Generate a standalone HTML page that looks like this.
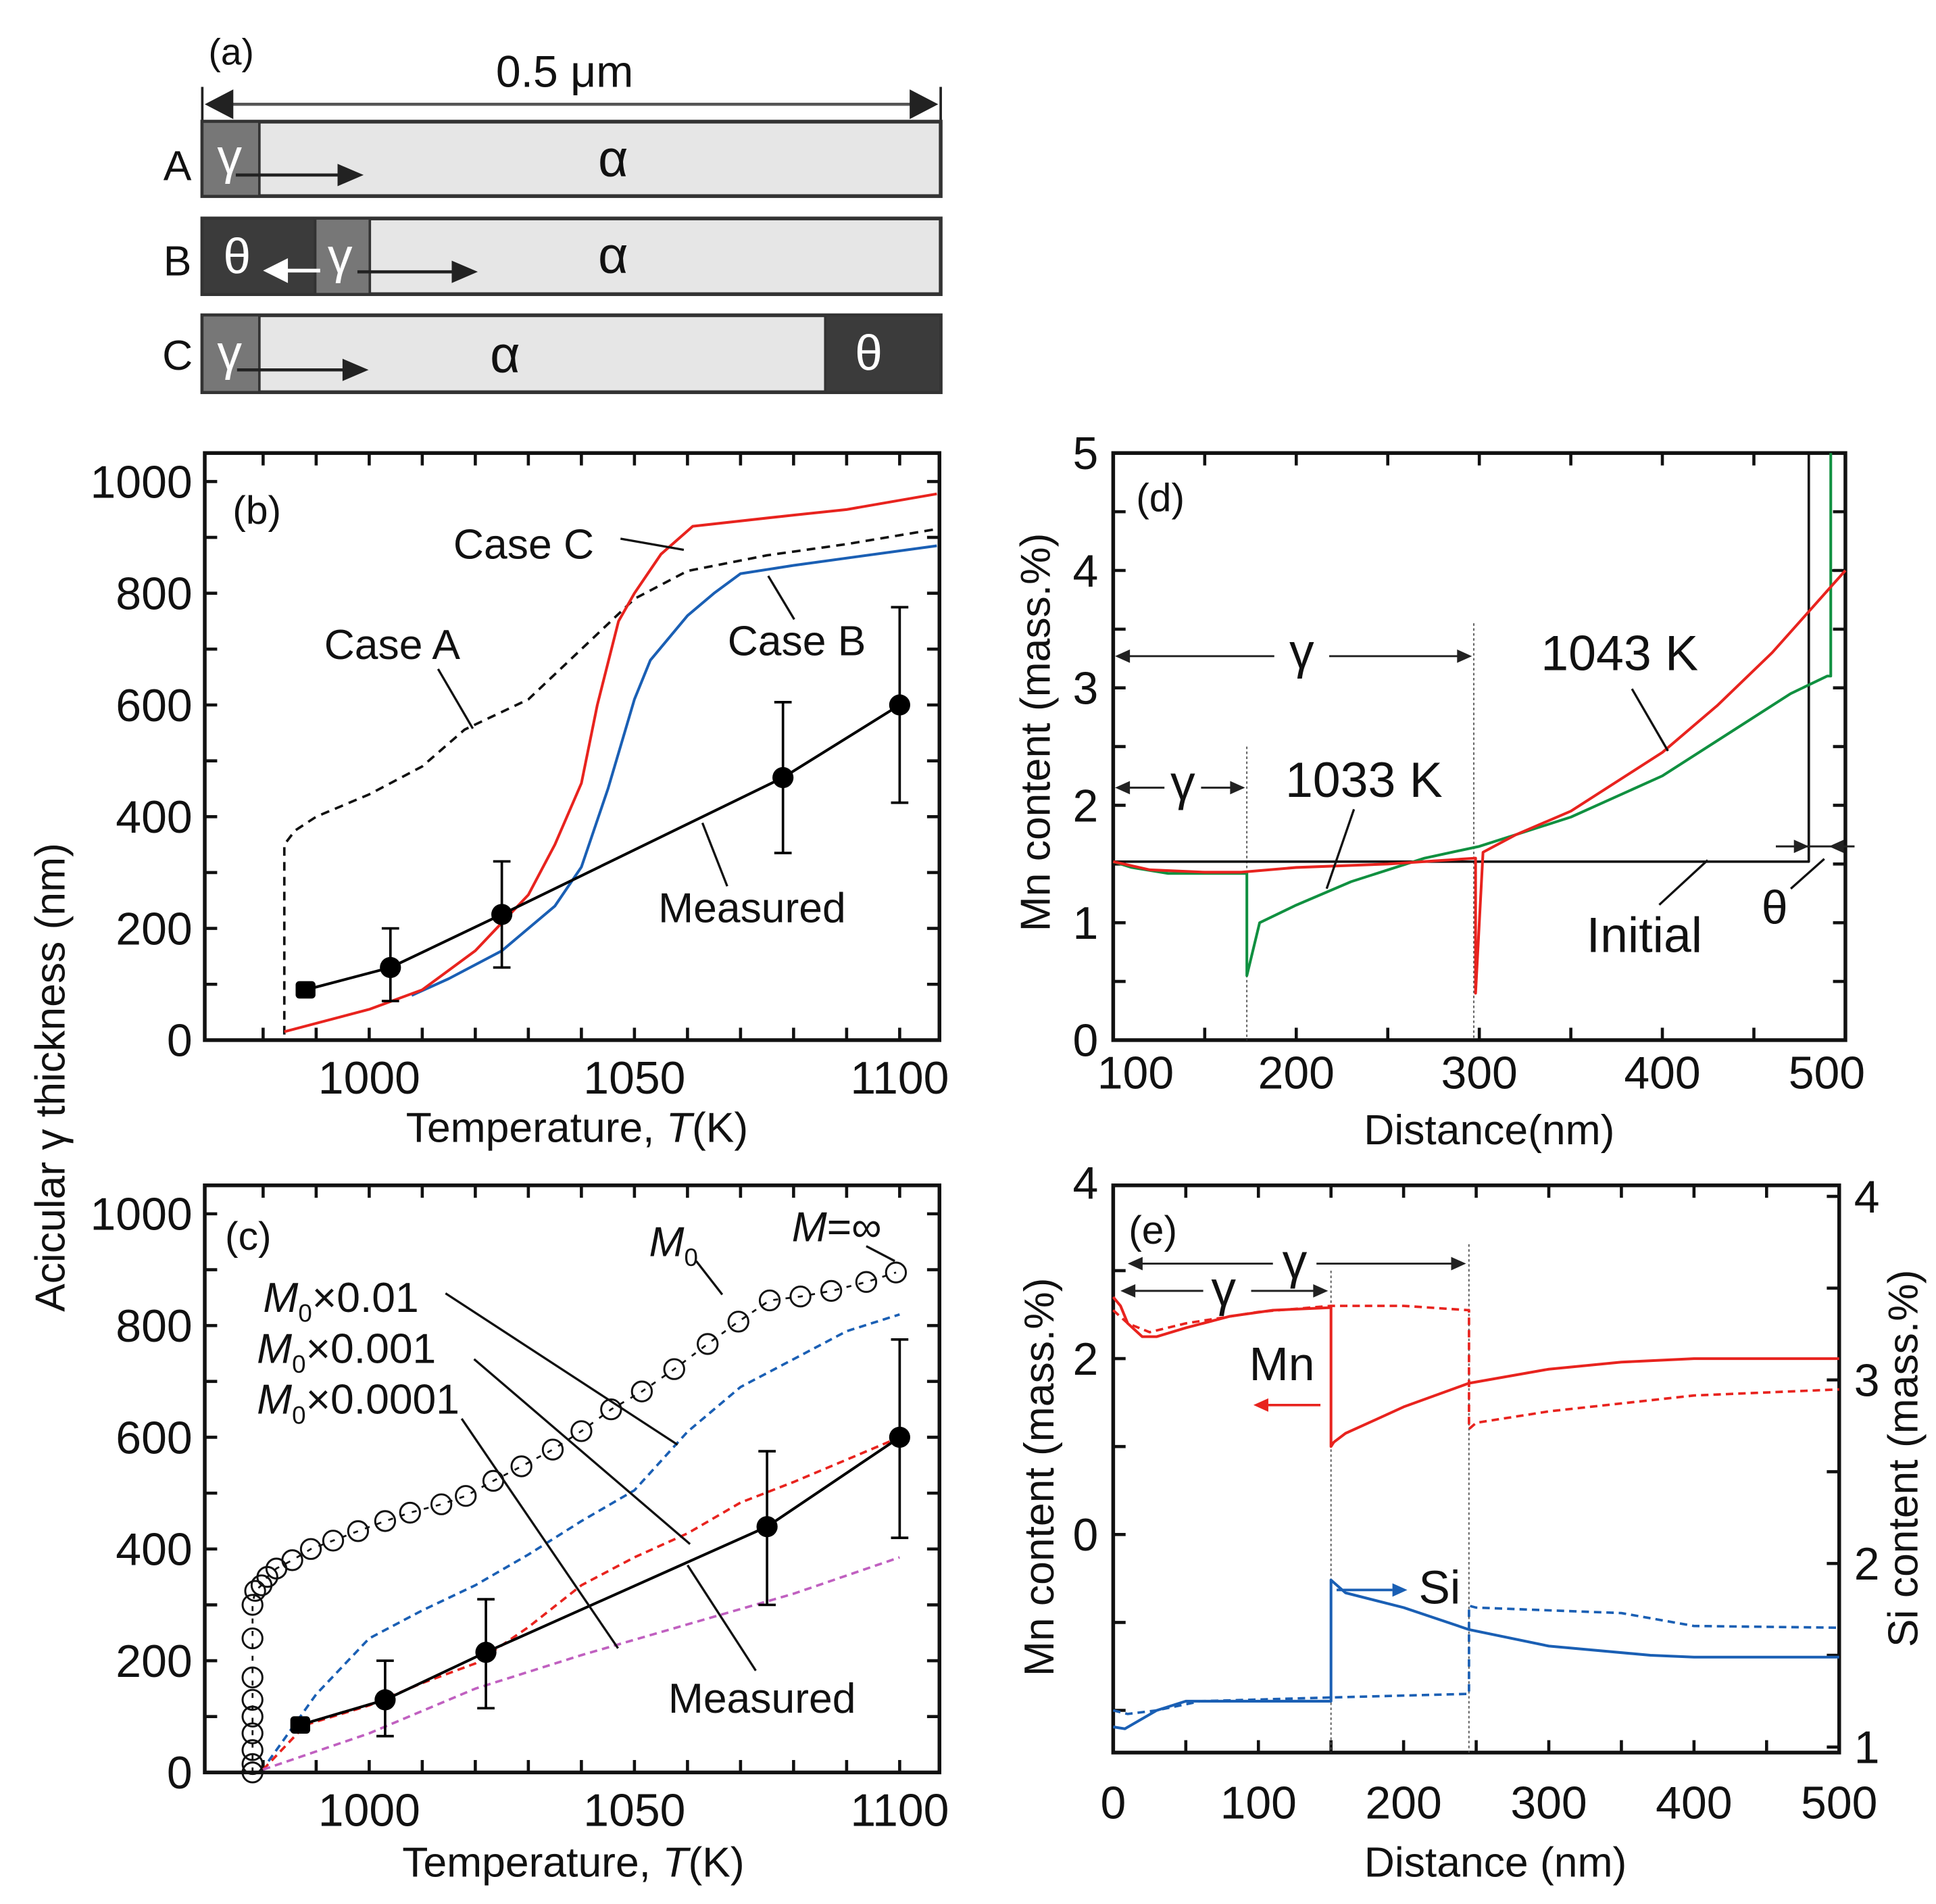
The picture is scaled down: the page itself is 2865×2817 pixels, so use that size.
<!DOCTYPE html>
<html><head><meta charset="utf-8">
<style>
html,body{margin:0;padding:0;background:#fff;}
svg{display:block;}
text{font-family:"Liberation Sans",sans-serif;fill:#111;}
</style></head>
<body>
<svg id="fig" width="2865" height="2817" viewBox="0 0 1560 1534" preserveAspectRatio="none" xmlns="http://www.w3.org/2000/svg">
<!-- Panel (a) -->
<g>
  <text x="168" y="52" font-size="30">(a)</text>
  <text x="455" y="70" font-size="36" text-anchor="middle">0.5 μm</text>
  <line x1="163" y1="70" x2="163" y2="98" stroke="#222" stroke-width="2"/>
  <line x1="758" y1="70" x2="758" y2="98" stroke="#222" stroke-width="2"/>
  <line x1="180" y1="84" x2="740" y2="84" stroke="#555" stroke-width="2.5"/>
  <polygon points="165,84 188,72 188,96" fill="#222"/>
  <polygon points="756,84 733,72 733,96" fill="#222"/>

  <text x="143" y="145" font-size="34" text-anchor="middle">A</text>
  <rect x="163" y="98" width="595" height="60" fill="#e6e6e6" stroke="#333" stroke-width="3"/>
  <rect x="163" y="98" width="46" height="60" fill="#777" stroke="#333" stroke-width="2"/>
  <text x="185" y="140" font-size="40" text-anchor="middle" style="fill:#fff">γ</text>
  <text x="494" y="142" font-size="42" text-anchor="middle">α</text>
  <line x1="190" y1="141" x2="275" y2="141" stroke="#222" stroke-width="2.5"/>
  <polygon points="293,141 272,132 272,150" fill="#222"/>

  <text x="143" y="222" font-size="34" text-anchor="middle">B</text>
  <rect x="163" y="176" width="595" height="61" fill="#e6e6e6" stroke="#333" stroke-width="3"/>
  <rect x="163" y="176" width="91" height="61" fill="#3b3b3b" stroke="#333" stroke-width="2"/>
  <rect x="254" y="176" width="44" height="61" fill="#777" stroke="#333" stroke-width="2"/>
  <text x="191" y="220" font-size="40" text-anchor="middle" style="fill:#fff">θ</text>
  <text x="274" y="220" font-size="40" text-anchor="middle" style="fill:#fff">γ</text>
  <text x="494" y="220" font-size="42" text-anchor="middle">α</text>
  <line x1="228" y1="218" x2="258" y2="218" stroke="#fff" stroke-width="3"/>
  <polygon points="212,218 232,208 232,228" fill="#fff"/>
  <line x1="288" y1="219" x2="366" y2="219" stroke="#222" stroke-width="2.5"/>
  <polygon points="385,219 364,210 364,228" fill="#222"/>

  <text x="143" y="298" font-size="34" text-anchor="middle">C</text>
  <rect x="163" y="254" width="595" height="62" fill="#e6e6e6" stroke="#333" stroke-width="3"/>
  <rect x="163" y="254" width="46" height="62" fill="#777" stroke="#333" stroke-width="2"/>
  <rect x="665" y="254" width="93" height="62" fill="#3b3b3b" stroke="#333" stroke-width="2"/>
  <text x="185" y="298" font-size="40" text-anchor="middle" style="fill:#fff">γ</text>
  <text x="700" y="298" font-size="40" text-anchor="middle" style="fill:#fff">θ</text>
  <text x="407" y="300" font-size="42" text-anchor="middle">α</text>
  <line x1="191" y1="298" x2="278" y2="298" stroke="#222" stroke-width="2.5"/>
  <polygon points="297,298 276,289 276,307" fill="#222"/>
</g>
<text transform="translate(52,868) rotate(-90)" font-size="34" text-anchor="middle">Acicular γ thickness (nm)</text>
<g id="plots"></g>
</svg>
<script>
// ---------- Panel (b) data ----------
const bCaseA_T = [984, 984, 986, 990, 1000, 1010, 1018, 1030, 1040, 1050, 1060, 1075, 1090, 1107];
const bCaseA_V = [10, 350, 375, 400, 440, 490, 556, 610, 700, 790, 840, 868, 888, 915];
const bCaseC_T = [984, 1000, 1010, 1020, 1030, 1035, 1040, 1043, 1047, 1050, 1055, 1061, 1080, 1090, 1107];
const bCaseC_V = [15, 55, 90, 160, 260, 350, 460, 600, 750, 800, 870, 920, 940, 950, 978];
const bCaseB_T = [1008, 1015, 1025, 1035, 1040, 1045, 1050, 1053, 1060, 1065, 1070, 1080, 1107];
const bCaseB_V = [80, 110, 160, 240, 310, 450, 610, 680, 760, 800, 835, 850, 885];
const bMeasT = [988, 1004, 1025, 1078, 1100];
const bMeasV = [90, 130, 225, 470, 600];
const bErrLo = [90, 70, 130, 335, 425];
const bErrHi = [90, 200, 320, 605, 775];
const bYTicks = [0, 200, 400, 600, 800, 1000];
const bXTicks = [1000, 1050, 1100];

// ---------- Panel (c) data ----------
const cCircT = [978,978,978,978,978,978,978,978,978,978.5,979.7,980.8,982.5,985.5,989,993.2,997.9,1003,1007.7,1013.6,1018.2,1023.4,1028.7,1034.6,1040,1045.6,1051.4,1057.5,1063.8,1069.6,1075.5,1081.3,1087.1,1093.7,1099.3];
const cCircV = [0,15,40,70,100,130,170,240,300,325,335,350,365,380,400,415,432,450,465,480,495,522,548,578,611,650,682,722,767,807,845,852,862,878,895];
const cBlueT = [981, 990, 1000, 1010, 1020, 1030, 1040, 1050, 1060, 1070, 1080, 1090, 1100];
const cBlueV = [20, 140, 240, 290, 335, 390, 450, 505, 610, 690, 740, 790, 820];
const cRedT = [980, 988, 1000, 1010, 1020, 1030, 1040, 1050, 1060, 1070, 1080, 1090, 1100];
const cRedV = [5, 85, 120, 160, 195, 260, 335, 385, 428, 483, 520, 560, 600];
const cMagT = [980, 1000, 1020, 1040, 1060, 1080, 1100];
const cMagV = [5, 70, 150, 210, 265, 320, 385];
const cMeasT = [987, 1003, 1022, 1075, 1100];
const cMeasV = [85, 130, 215, 440, 600];
const cErrLo = [85, 65, 115, 300, 420];
const cErrHi = [85, 200, 310, 575, 775];

// ---------- Panel (d) data ----------
const dInitX = [100, 480, 480];
const dInitV = [1.52, 1.52, 5];
const d1043X = [100, 120, 150, 170, 200, 250, 298, 298, 302, 320, 350, 400, 430, 460, 480, 500];
const d1043V = [1.52, 1.45, 1.43, 1.43, 1.47, 1.5, 1.55, 0.4, 1.6, 1.75, 1.95, 2.45, 2.85, 3.3, 3.65, 4.0];
const d1033X = [100, 110, 130, 173, 173, 180, 200, 230, 270, 300, 350, 400, 440, 470, 490, 492, 492];
const d1033V = [1.52, 1.47, 1.42, 1.42, 0.55, 1.0, 1.15, 1.35, 1.55, 1.65, 1.9, 2.25, 2.65, 2.95, 3.1, 3.1, 5];
const dYTicks = [0, 1, 2, 3, 4, 5];
const dXTicks = [100, 200, 300, 400, 500];

// ---------- Panel (e) data ----------
const eMnSolidX = [0, 5, 10, 20, 30, 50, 80, 110, 150, 150, 152, 160, 180, 200, 245, 300, 350, 400, 500];
const eMnSolidV = [2.7, 2.6, 2.4, 2.25, 2.25, 2.35, 2.48, 2.55, 2.58, 1.0, 1.05, 1.15, 1.3, 1.45, 1.72, 1.88, 1.96, 2.0, 2.0];
const eMnDashX = [0, 10, 25, 50, 100, 150, 200, 245, 245, 250, 300, 400, 500];
const eMnDashV = [2.55, 2.4, 2.3, 2.4, 2.53, 2.6, 2.6, 2.55, 1.2, 1.27, 1.4, 1.58, 1.65];
const eSiSolidX = [0, 8, 30, 50, 150, 150, 160, 200, 245, 300, 370, 400, 500];
const eSiSolidV = [1.11, 1.1, 1.2, 1.25, 1.25, 1.91, 1.84, 1.76, 1.64, 1.55, 1.5, 1.49, 1.49];
const eSiDashX = [0, 10, 30, 60, 150, 245, 245, 250, 350, 400, 500];
const eSiDashV = [1.2, 1.18, 1.2, 1.25, 1.27, 1.29, 1.77, 1.76, 1.73, 1.66, 1.65];
const eLeftTicks = [0, 2, 4];
const eRightTicks = [1, 2, 3, 4];
const eXTicks = [0, 100, 200, 300, 400, 500];

const NS = 'http://www.w3.org/2000/svg';
const root = document.getElementById('plots');
function mk(tag, attrs, parent) {
  const e = document.createElementNS(NS, tag);
  for (const k in attrs) e.setAttribute(k, attrs[k]);
  (parent || root).appendChild(e);
  return e;
}
function scale(d0, d1, p0, p1) { return v => p0 + (v - d0) / (d1 - d0) * (p1 - p0); }
function poly(xs, vs, X, Y, stroke, dash, name, w) {
  const pts = xs.map((x, i) => X(x).toFixed(1) + ',' + Y(vs[i]).toFixed(1)).join(' ');
  const p = mk('polyline', {points: pts, fill: 'none', stroke: stroke, 'stroke-width': w || 2.2, 'stroke-dasharray': dash || 'none', 'stroke-linejoin': 'round'});
  
  
  return p;
}
function txt(x, y, s, size, anchor, name, extra) {
  const t = mk('text', Object.assign({x: x, y: y, 'font-size': size, 'text-anchor': anchor || 'start'}, extra || {}));
  t.textContent = s;
  
  
  return t;
}
function ln(x1, y1, x2, y2, name, color, w, dash) {
  const l = mk('line', {x1: x1, y1: y1, x2: x2, y2: y2, stroke: color || '#111', 'stroke-width': w || 1.8, 'stroke-dasharray': dash || 'none'});
  
  
  return l;
}
function box(x0, y0, x1, y1, name) {
  const r = mk('rect', {x: x0, y: y0, width: x1 - x0, height: y1 - y0, fill: 'none', stroke: '#111', 'stroke-width': 3});
  
  
}
function xticks(start, end, step, X, y0, y1, name) {
  for (let v = start; v <= end + 1e-9; v += step) {
    const x = X(v);
    ln(x, y1, x, y1 - 10, name + '-bottom', '#111', 2.5);
    ln(x, y0, x, y0 + 10, name + '-top', '#111', 2.5);
  }
}
function yticks(start, end, step, Y, x0, x1, name, left, right) {
  for (let v = start; v <= end + 1e-9; v += step) {
    const y = Y(v);
    if (left !== false) ln(x0, y, x0 + 10, y, name + '-left', '#111', 2.5);
    if (right !== false) ln(x1, y, x1 - 10, y, name + '-right', '#111', 2.5);
  }
}
function arrowHead(x, y, dir, color, name, size) {
  const s = size || 12;
  const pts = dir > 0 ? `${x},${y} ${x - s},${y - s * 0.45} ${x - s},${y + s * 0.45}` : `${x},${y} ${x + s},${y - s * 0.45} ${x + s},${y + s * 0.45}`;
  const p = mk('polygon', {points: pts, fill: color});
  
  
}
function marker(x, y, name, square) {
  const c = square ? mk('rect', {x: x - 8, y: y - 7, width: 16, height: 14, rx: 3, fill: '#000'}) : mk('circle', {cx: x, cy: y, r: 8.5, fill: '#000'});
  
  
}

// ================= Panel (b) =================
{
  const X = scale(969, 1107.5, 165, 757), Y = scale(0, 1051, 838, 365);
  xticks(980, 1100, 10, X, 365, 838, 'b-x-tick');
  yticks(0, 1000, 100, Y, 165, 757, 'b-y-tick');
  box(165, 365, 757, 838, 'panel-b-frame');
  bYTicks.forEach(v => txt(155, Y(v) + 13, String(v), 37, 'end', 'b-y-tick-label'));
  bXTicks.forEach(v => txt(X(v), 881, String(v), 37, 'middle', 'b-x-tick-label'));
  const xt = txt(465, 920, '', 34, 'middle', 'b-x-axis-title');
  const a = mk('tspan', {}, xt); a.textContent = 'Temperature, ';
  const b = mk('tspan', {'font-style': 'italic'}, xt); b.textContent = 'T';
  const c = mk('tspan', {}, xt); c.textContent = '(K)';
  txt(207, 422, '(b)', 32, 'middle', 'panel-b-label');
  poly(bCaseA_T, bCaseA_V, X, Y, '#111', '7,5', 'case-a-line', 2);
  poly(bCaseB_T, bCaseB_V, X, Y, '#1a5fb4', null, 'case-b-line');
  poly(bCaseC_T, bCaseC_V, X, Y, '#e8231e', null, 'case-c-line');
  poly(bMeasT, bMeasV, X, Y, '#000', null, 'b-measured-line', 2.2);
  bMeasT.forEach((t, i) => {
    if (bErrHi[i] > bErrLo[i]) {
      ln(X(t), Y(bErrLo[i]), X(t), Y(bErrHi[i]), 'b-error-bar', '#000', 2);
      ln(X(t) - 7, Y(bErrLo[i]), X(t) + 7, Y(bErrLo[i]), 'b-error-cap', '#000', 2);
      ln(X(t) - 7, Y(bErrHi[i]), X(t) + 7, Y(bErrHi[i]), 'b-error-cap', '#000', 2);
    }
    marker(X(t), Y(bMeasV[i]), 'b-measured-point', i === 0);
  });
  txt(422, 450, 'Case C', 34, 'middle', 'case-c-label');
  ln(500, 434, 551, 443, 'case-c-pointer');
  txt(316, 531, 'Case A', 34, 'middle', 'case-a-label');
  ln(353, 539, 381, 587, 'case-a-pointer');
  txt(642, 528, 'Case B', 34, 'middle', 'case-b-label');
  ln(619, 464, 640, 499, 'case-b-pointer');
  txt(606, 743, 'Measured', 34, 'middle', 'b-measured-label');
  ln(586, 714, 566, 663, 'b-measured-pointer');
}

// ================= Panel (c) =================
{
  const X = scale(969, 1107.5, 165, 757), Y = scale(0, 1051, 1428, 955);
  xticks(980, 1100, 10, X, 955, 1428, 'c-x-tick');
  yticks(0, 1000, 100, Y, 165, 757, 'c-y-tick');
  box(165, 955, 757, 1428, 'panel-c-frame');
  bYTicks.forEach(v => txt(155, Y(v) + 13, String(v), 37, 'end', 'c-y-tick-label'));
  bXTicks.forEach(v => txt(X(v), 1471, String(v), 37, 'middle', 'c-x-tick-label'));
  const xt = txt(462, 1512, '', 34, 'middle', 'c-x-axis-title');
  const a = mk('tspan', {}, xt); a.textContent = 'Temperature, ';
  const b = mk('tspan', {'font-style': 'italic'}, xt); b.textContent = 'T';
  const c = mk('tspan', {}, xt); c.textContent = '(K)';
  txt(200, 1007, '(c)', 32, 'middle', 'panel-c-label');
  poly(cCircT, cCircV, X, Y, '#111', '4,6', 'm-infinity-line', 1.5);
  cCircT.forEach((t, i) => {
    const ci = mk('circle', {cx: X(t), cy: Y(cCircV[i]), r: 8, fill: 'none', stroke: '#111', 'stroke-width': 1.6});
    
    
  });
  poly(cBlueT, cBlueV, X, Y, '#1a5fb4', '6,4', 'm0-x0.01-line', 2);
  poly(cRedT, cRedV, X, Y, '#e8231e', '6,4', 'm0-x0.001-line', 2);
  poly(cMagT, cMagV, X, Y, '#c060c0', '6,4', 'm0-x0.0001-line', 2);
  poly(cMeasT, cMeasV, X, Y, '#000', null, 'c-measured-line', 2.2);
  cMeasT.forEach((t, i) => {
    if (cErrHi[i] > cErrLo[i]) {
      ln(X(t), Y(cErrLo[i]), X(t), Y(cErrHi[i]), 'c-error-bar', '#000', 2);
      ln(X(t) - 7, Y(cErrLo[i]), X(t) + 7, Y(cErrLo[i]), 'c-error-cap', '#000', 2);
      ln(X(t) - 7, Y(cErrHi[i]), X(t) + 7, Y(cErrHi[i]), 'c-error-cap', '#000', 2);
    }
    marker(X(t), Y(cMeasV[i]), 'c-measured-point', i === 0);
  });
  function mlabel(x, y, rest, name) {
    const t = txt(x, y, '', 34, 'start', name);
    const m = mk('tspan', {'font-style': 'italic'}, t); m.textContent = 'M';
    const s = mk('tspan', {'font-size': 20, dy: 8}, t); s.textContent = '0';
    const r = mk('tspan', {dy: -8}, t); r.textContent = rest;
  }
  mlabel(212, 1057, '×0.01', 'm0-x0.01-label');
  ln(359, 1042, 546, 1164, 'm0-x0.01-pointer');
  mlabel(207, 1098, '×0.001', 'm0-x0.001-label');
  ln(382, 1095, 556, 1244, 'm0-x0.001-pointer');
  mlabel(207, 1139, '×0.0001', 'm0-x0.0001-label');
  ln(372, 1143, 498, 1328, 'm0-x0.0001-pointer');
  txt(614, 1380, 'Measured', 34, 'middle', 'c-measured-label');
  ln(609, 1346, 554, 1261, 'c-measured-pointer');
  mlabel(523, 1012, '', 'm0-label');
  ln(561, 1016, 582, 1043, 'm0-pointer');
  const mi = txt(638, 1000, '', 34, 'start', 'm-infinity-label');
  const m1 = mk('tspan', {'font-style': 'italic'}, mi); m1.textContent = 'M';
  const m2 = mk('tspan', {}, mi); m2.textContent = '=∞';
  ln(698, 1004, 721, 1016, 'm-infinity-pointer');
}

// ================= Panel (d) =================
{
  const X = scale(100, 500, 897, 1487), Y = scale(0, 5, 838, 365);
  xticks(100, 500, 50, X, 365, 838, 'd-x-tick');
  yticks(0, 5, 0.5, Y, 897, 1487, 'd-y-tick');
  box(897, 365, 1487, 838, 'panel-d-frame');
  dYTicks.forEach(v => txt(885, Y(v) + 13, String(v), 37, 'end', 'd-y-tick-label'));
  dXTicks.forEach((v, i) => txt(X(v) + (i === 0 ? 18 : (i === 4 ? -15 : 0)), 877, String(v), 37, 'middle', 'd-x-tick-label'));
  txt(1200, 922, 'Distance(nm)', 34, 'middle', 'd-x-axis-title');
  txt(0, 0, 'Mn content (mass.%)', 34, 'middle', 'd-y-axis-title', {transform: 'translate(846,590) rotate(-90)'});
  txt(935, 412, '(d)', 32, 'middle', 'panel-d-label');
  ln(X(173), Y(2.5), X(173), Y(0), 'd-boundary-173', '#555', 1, '2,2');
  ln(X(297), Y(3.55), X(297), Y(0), 'd-boundary-297', '#555', 1, '2,2');
  poly(dInitX, dInitV, X, Y, '#111', null, 'initial-line', 2);
  ln(X(492), Y(4), X(500), Y(4), 'd-theta-top', '#111', 2);
  poly(d1033X, d1033V, X, Y, '#109040', null, 'profile-1033k', 2.2);
  poly(d1043X, d1043V, X, Y, '#e8231e', null, 'profile-1043k', 2.2);
  ln(X(103), Y(3.27), X(188), Y(3.27), 'd-gamma-arrow-left', '#222', 1.6);
  ln(X(218), Y(3.27), X(294), Y(3.27), 'd-gamma-arrow-right', '#222', 1.6);
  arrowHead(X(101), Y(3.27), -1, '#222', 'd-gamma-head-left');
  arrowHead(X(296), Y(3.27), 1, '#222', 'd-gamma-head-right');
  txt(X(203), Y(3.27) + 10, 'γ', 40, 'middle', 'd-gamma-label-long');
  ln(X(103), Y(2.15), X(128), Y(2.15), 'd-gamma2-arrow-left', '#222', 1.6);
  ln(X(148), Y(2.15), X(171), Y(2.15), 'd-gamma2-arrow-right', '#222', 1.6);
  arrowHead(X(101), Y(2.15), -1, '#222', 'd-gamma2-head-left');
  arrowHead(X(172), Y(2.15), 1, '#222', 'd-gamma2-head-right');
  txt(X(138), Y(2.15) + 10, 'γ', 40, 'middle', 'd-gamma-label-short');
  ln(X(462), Y(1.65), X(505), Y(1.65), 'd-theta-arrow', '#222', 1.6);
  arrowHead(X(480), Y(1.65), 1, '#222', 'd-theta-head-right');
  arrowHead(X(491), Y(1.65), -1, '#222', 'd-theta-head-left');
  txt(1305, 540, '1043 K', 40, 'middle', 'label-1043k');
  ln(1315, 555, 1344, 605, 'pointer-1043k');
  txt(1099, 642, '1033 K', 40, 'middle', 'label-1033k');
  ln(1091, 652, 1069, 716, 'pointer-1033k');
  txt(1325, 767, 'Initial', 40, 'middle', 'initial-label');
  ln(1337, 729, 1376, 693, 'initial-pointer');
  txt(1430, 744, 'θ', 38, 'middle', 'd-theta-label');
  ln(1443, 716, 1470, 692, 'd-theta-pointer');
}

// ================= Panel (e) =================
{
  const X = scale(0, 500, 897, 1482), Y = scale(-2.48, 3.97, 1412, 955), YR = scale(0.97, 4.06, 1412, 955);
  xticks(0, 500, 50, X, 955, 1412, 'e-x-tick');
  yticks(-2, 3, 1, Y, 897, 1482, 'e-left-tick', true, false);
  yticks(1, 4, 0.5, YR, 897, 1482, 'e-right-tick', false, true);
  box(897, 955, 1482, 1412, 'panel-e-frame');
  eLeftTicks.forEach(v => txt(885, Y(v) + 13, String(v), 37, 'end', 'e-left-tick-label'));
  eRightTicks.forEach(v => txt(1494, YR(v) + 13, String(v), 37, 'start', 'e-right-tick-label'));
  eXTicks.forEach(v => txt(X(v), 1465, String(v), 37, 'middle', 'e-x-tick-label'));
  txt(1205, 1512, 'Distance (nm)', 34, 'middle', 'e-x-axis-title');
  txt(0, 0, 'Mn content (mass.%)', 34, 'middle', 'e-y-axis-title-left', {transform: 'translate(849,1190) rotate(-90)'});
  txt(0, 0, 'Si content (mass.%)', 34, 'middle', 'e-y-axis-title-right', {transform: 'translate(1545,1175) rotate(-90)'});
  txt(929, 1002, '(e)', 32, 'middle', 'panel-e-label');
  ln(X(150), Y(3.0), X(150), 1412, 'e-boundary-150', '#555', 1, '2,2');
  ln(X(245), Y(3.3), X(245), 1412, 'e-boundary-245', '#555', 1, '2,2');
  poly(eMnDashX, eMnDashV, X, Y, '#e8231e', '6,4', 'mn-dashed-line', 2);
  poly(eMnSolidX, eMnSolidV, X, Y, '#e8231e', null, 'mn-solid-line', 2.2);
  poly(eSiDashX, eSiDashV, X, YR, '#1a5fb4', '6,4', 'si-dashed-line', 2);
  poly(eSiSolidX, eSiSolidV, X, YR, '#1a5fb4', null, 'si-solid-line', 2.2);
  ln(X(12), Y(3.08), X(110), Y(3.08), 'e-gamma-arrow-left', '#222', 1.6);
  ln(X(140), Y(3.08), X(240), Y(3.08), 'e-gamma-arrow-right', '#222', 1.6);
  arrowHead(X(10), Y(3.08), -1, '#222', 'e-gamma-head-left');
  arrowHead(X(243), Y(3.08), 1, '#222', 'e-gamma-head-right');
  txt(X(125), Y(3.08) + 12, 'γ', 40, 'middle', 'e-gamma-label-long');
  ln(X(7), Y(2.77), X(62), Y(2.77), 'e-gamma2-arrow-left', '#222', 1.6);
  ln(X(95), Y(2.77), X(146), Y(2.77), 'e-gamma2-arrow-right', '#222', 1.6);
  arrowHead(X(5), Y(2.77), -1, '#222', 'e-gamma2-head-left');
  arrowHead(X(148), Y(2.77), 1, '#222', 'e-gamma2-head-right');
  txt(X(76), Y(2.77) + 12, 'γ', 40, 'middle', 'e-gamma-label-short');
  txt(1033, 1112, 'Mn', 38, 'middle', 'mn-label');
  ln(1064, 1132, 1022, 1132, 'mn-arrow', '#e8231e', 2);
  arrowHead(1010, 1132, -1, '#e8231e', 'mn-arrowhead');
  txt(1160, 1292, 'Si', 38, 'middle', 'si-label');
  ln(1077, 1281, 1122, 1281, 'si-arrow', '#1a5fb4', 2);
  arrowHead(1134, 1281, 1, '#1a5fb4', 'si-arrowhead');
}
</script>
</body></html>
